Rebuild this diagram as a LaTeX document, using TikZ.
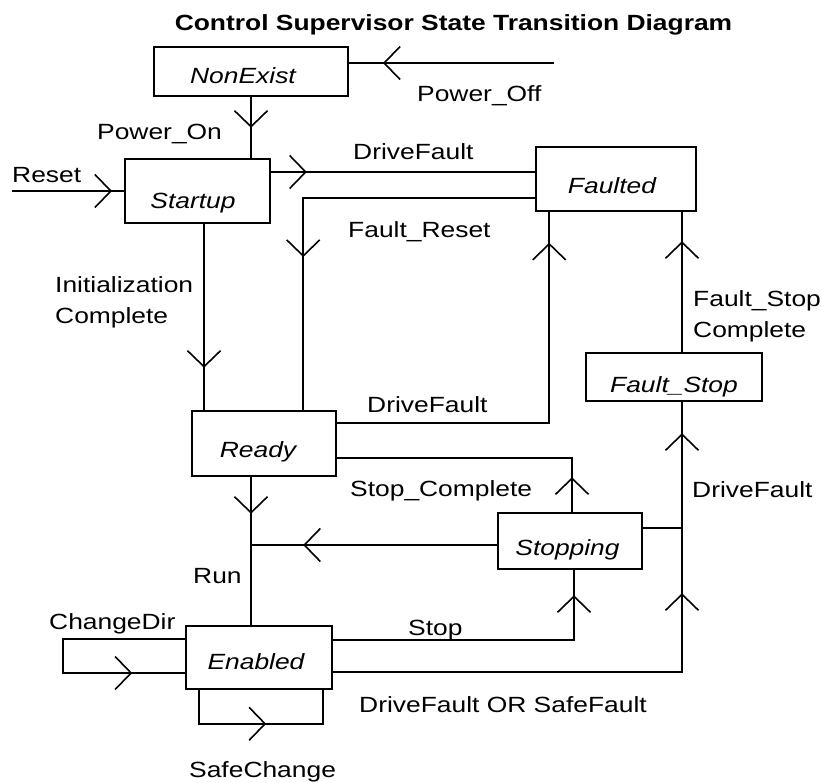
\documentclass[tikz,border=0pt]{standalone}
\usepackage{fontspec}
\setmainfont{Liberation Sans}[FakeStretch=1.2]
\usetikzlibrary{arrows.meta,decorations.markings,calc}

\begin{document}
\begin{tikzpicture}[x=1pt,y=-1pt,
  every node/.style={inner sep=0pt, font=\fontsize{22}{31}\selectfont},
  state/.style 2 args={draw, line width=1.6pt, rectangle,
    minimum width=#1pt, minimum height=#2pt},
  stext/.style={anchor=base, font=\fontsize{22}{31}\selectfont\itshape},
  lbl/.style={anchor=base west, align=left},
  conn/.style={draw, line width=1.6pt},
  barbat/.style={postaction={decorate, decoration={markings,
    mark=at position #1 with {\arrow{Straight Barb[length=16pt,width=33pt]}}}}}]

\fill[white] (0,0) rectangle (821,782);
\useasboundingbox (0,0) rectangle (821,782);

% title
\node[anchor=base, font=\fontsize{22}{31}\selectfont\bfseries] (title) at (453.5,30)
  {Control Supervisor State Transition Diagram};

% states
\node[state={194}{49}] (nonexist) at (251,71.5) {};
\node[stext] (nonexist-t) at (243,83) {NonExist};
\node[state={145}{64}] (startup) at (197.5,191) {};
\node[stext] (startup-t) at (193,208) {Startup};
\node[state={160}{64}] (faulted) at (616,179) {};
\node[stext] (faulted-t) at (612,193) {Faulted};
\node[state={144}{65}] (ready) at (264,443.5) {};
\node[stext] (ready-t) at (258,457) {Ready};
\node[state={176}{48}] (faultstop) at (674,377) {};
\node[stext] (faultstop-t) at (674,392) {Fault\_Stop};
\node[state={144}{56}] (stopping) at (570,541) {};
\node[stext] (stopping-t) at (567.5,555) {Stopping};
\node[state={146}{63}] (enabled) at (259,657.5) {};
\node[stext] (enabled-t) at (256,669) {Enabled};

% free ends and branch points
\coordinate (poff) at (554,63);
\coordinate (rst) at (12,191);
\coordinate (initfrom) at ($(startup.south)+(6.5,0)$);
\coordinate (scfrom) at ($(stopping.north)+(2,0)$);
\coordinate (rfrom) at ($(ready.south)+(-13,0)$);
\coordinate (fsx) at ($(faultstop.north)+(8,0)$);
\coordinate (stx) at ($(stopping.south)+(4,0)$);

% transitions
\draw[conn, barbat=171pt] (poff) -- (poff -| nonexist.east);
\draw[conn, barbat=31pt] (nonexist.south) -- (nonexist.south |- startup.north);
\draw[conn, barbat=100pt] (rst) -- (rst -| startup.west);
\draw[conn, barbat=36pt] (startup.east |- 0,172) -- (faulted.west |- 0,172);
\draw[conn, barbat=291pt] (faulted.west |- 0,198) -| ($(ready.north west)+(112,0)$);
\draw[conn, barbat=144pt] (initfrom) -- (initfrom |- ready.north);
\draw[conn, barbat=-31pt] (ready.east |- 0,423) -| ($(faulted.south west)+(14,0)$);
\draw[conn, barbat=35pt] (scfrom) |- (ready.east |- 0,458);
\draw[conn, barbat=194pt] (stopping.west |- 0,545) -- (rfrom |- 0,545);
\draw[conn, barbat=37pt] (rfrom) -- (rfrom |- enabled.north);
\draw[conn, barbat=111pt] (fsx) -- (fsx |- faulted.south);
\draw[conn, barbat=134pt] (stopping.east |- 0,528) -| (fsx |- faultstop.south);
\draw[conn, barbat=428pt] (enabled.east |- 0,672) -| (fsx |- 0,528);
\draw[conn, barbat=286pt] (enabled.east |- 0,640) -| (stx);
\draw[conn, barbat=225pt] (enabled.west |- 0,639) -- ++(-122,0) -- ++(0,34)
  -- (enabled.west |- 0,673);
\draw[conn, barbat=101pt] ($(enabled.south west)+(14,0)$) -- ++(0,34)
  -| ($(enabled.south east)+(-10,0)$);

% transition labels (two-line labels are placed by their last baseline)
\node[lbl] (l-poff) at (417,101) {Power\_Off};
\node[lbl] (l-pon) at (97,139) {Power\_On};
\node[lbl] (l-reset) at (12,182) {Reset};
\node[lbl] (l-df1) at (353,159) {DriveFault};
\node[lbl] (l-freset) at (348,237) {Fault\_Reset};
\node[lbl] (l-init) at (55,323) {Initialization\\Complete};
\node[lbl] (l-df2) at (367,412) {DriveFault};
\node[lbl] (l-stopc) at (350,496) {Stop\_Complete};
\node[lbl] (l-fsc) at (693,337) {Fault\_Stop\\Complete};
\node[lbl] (l-df3) at (692,497) {DriveFault};
\node[lbl] (l-run) at (193,583) {Run};
\node[lbl] (l-cdir) at (49,629) {ChangeDir};
\node[lbl] (l-stop) at (408,635) {Stop};
\node[lbl] (l-dfsf) at (359,712) {DriveFault OR SafeFault};
\node[lbl] (l-sch) at (189,777) {SafeChange};
\end{tikzpicture}
\end{document}
